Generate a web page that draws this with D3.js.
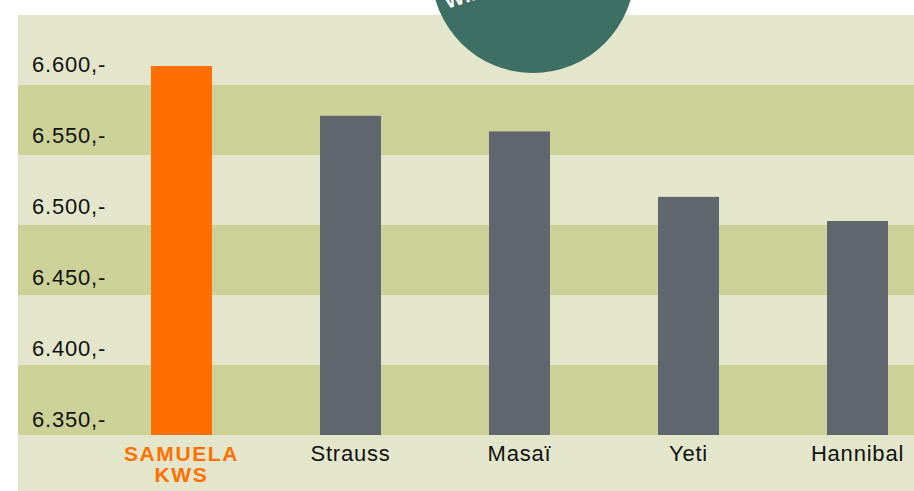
<!DOCTYPE html>
<html>
<head>
<meta charset="utf-8">
<script src="https://cdn.jsdelivr.net/npm/d3@7"></script>
<style>
  body { margin: 0; background: #fff; }
  svg { display: block; }
  text { font-family: "Liberation Sans", Arial, Helvetica, sans-serif; }
</style>
</head>
<body>
<div id="chart"></div>
<script>
// data
var varieties = ["SAMUELA KWS", "Strauss", "Masaï", "Yeti", "Hannibal"];
var prices = [6600, 6565, 6554, 6508, 6491];
var tickValues = [6350, 6400, 6450, 6500, 6550, 6600];
var highlight = "SAMUELA KWS";

var outWidth = 914, outHeight = 491;
var panel = {left: 18, top: 15, bottom: 435};

var svg = d3.select("#chart").append("svg")
	.attr("width", outWidth)
	.attr("height", outHeight);

// 1. scales
var xScale = d3.scaleBand()
	.domain(varieties)
	.range([97, 942])
	.paddingInner(108 / 169)
	.paddingOuter(54 / 169);

var yScale = d3.scaleLinear()
	.domain([6340.5, 6635.9])
	.range([panel.bottom, panel.top]);

// 2. background panel + stripes
svg.append("rect")
	.attr("x", panel.left).attr("y", panel.top)
	.attr("width", outWidth - panel.left)
	.attr("height", outHeight - panel.top)
	.attr("fill", "#e3e6cb");

var stripeH = (panel.bottom - panel.top) / 6;
svg.selectAll(".stripe")
	.data([1, 3, 5])
	.enter().append("rect")
	.attr("class", "stripe")
	.attr("x", panel.left)
	.attr("y", function(i) { return panel.top + i * stripeH; })
	.attr("width", outWidth - panel.left)
	.attr("height", stripeH)
	.attr("fill", "#cbd197");

// 3. y axis labels (no line, no tick marks)
var yAxis = d3.axisLeft(yScale)
	.tickValues(tickValues)
	.tickSize(0)
	.tickFormat(function(d) { return d3.format(",")(d).replace(",", ".") + ",-"; });

var gy = svg.append("g")
	.attr("transform", "translate(32,0)")
	.call(yAxis);
gy.select(".domain").remove();
gy.selectAll("text")
	.attr("x", 0)
	.attr("dy", "5.3px")
	.attr("text-anchor", "start")
	.style("font-family", "'Liberation Sans', Arial, sans-serif")
	.style("font-size", "22px")
	.style("letter-spacing", "0.8px")
	.attr("fill", "#111");

// 4. bars
svg.selectAll(".bar")
	.data(varieties)
	.enter().append("rect")
	.attr("class", "bar")
	.attr("x", function(d) { return xScale(d); })
	.attr("width", xScale.bandwidth())
	.attr("y", function(d, i) { return yScale(prices[i]); })
	.attr("height", function(d, i) { return panel.bottom - yScale(prices[i]); })
	.attr("fill", function(d) { return d === highlight ? "#ff6e00" : "#5f666d"; });

// 5. category labels
var labels = svg.selectAll(".cat")
	.data(varieties)
	.enter().append("text")
	.attr("class", "cat")
	.attr("x", function(d) { return xScale(d) + xScale.bandwidth() / 2; })
	.attr("y", 461)
	.attr("text-anchor", "middle")
	.style("font-size", function(d) { return d === highlight ? "21px" : "22px"; })
	.style("letter-spacing", function(d) { return d === highlight ? "1.6px" : "0.8px"; })
	.style("font-weight", function(d) { return d === highlight ? "bold" : "normal"; })
	.attr("fill", function(d) { return d === highlight ? "#ff7000" : "#111"; });

labels.each(function(d) {
	var words = d.split(" ");
	var t = d3.select(this);
	words.forEach(function(w, i) {
		t.append("tspan")
			.attr("x", t.attr("x"))
			.attr("dy", i === 0 ? 0 : 21)
			.text(w);
	});
});

// 6. badge circle at the top (cut off by the page edge)
svg.append("circle")
	.attr("cx", 533)
	.attr("cy", -28.6)
	.attr("r", 101.6)
	.attr("fill", "#3e6f64");

svg.append("text")
	.attr("transform", "translate(447,9) rotate(-18)")
	.style("font-size", "21px")
	.style("font-weight", "bold")
	.attr("fill", "#fff")
	.text("Winner");
</script>
</body>
</html>
